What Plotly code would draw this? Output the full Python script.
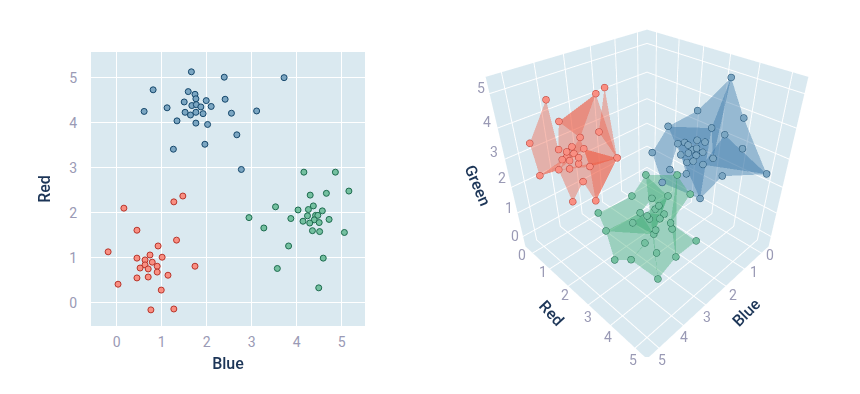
import plotly.graph_objects as go

# 2D panel: Blue (x) against Red (y)
navy_blue=[1.66,2.39,3.72,.81,1.59,1.74,1.76,1.99,2.41,1.50,1.67,1.77,1.87,2.10,1.12,.61,1.52,1.64,1.76,1.92,2.55,3.11,1.34,1.76,2.02,2.67,1.26,1.96,2.77]
navy_red=[5.13,5.01,5.00,4.73,4.69,4.63,4.53,4.49,4.52,4.46,4.38,4.40,4.35,4.36,4.33,4.25,4.23,4.17,4.23,4.20,4.21,4.26,4.04,3.99,3.96,3.73,3.41,3.52,2.96]
coral_blue=[1.47,1.27,.16,.45,1.33,.92,-.19,.74,.45,1.01,.63,.79,.63,.90,1.74,.52,.70,.90,1.14,.70,.45,.03,.99,.76,1.27]
coral_red=[2.37,2.24,2.10,1.61,1.39,1.26,1.13,1.06,.99,1.01,.95,.90,.84,.81,.81,.77,.75,.68,.61,.57,.55,.41,.28,-.16,-.14]
green_blue=[4.30,4.66,5.16,4.16,4.86,3.53,4.03,4.26,4.37,4.57,4.24,4.42,4.47,2.94,3.87,4.14,4.39,4.29,4.50,4.72,3.27,4.35,4.51,5.06,3.82,4.59,3.57,4.49]
green_red=[2.39,2.43,2.48,2.90,2.90,2.13,2.06,2.07,2.15,2.04,1.93,1.94,1.94,1.89,1.87,1.81,1.84,1.77,1.78,1.85,1.66,1.60,1.58,1.56,1.26,.99,.76,.33]

# 3D panel
coral3_x=[4.07,2.93,2.61,4.04,3.29,3.83,4.86,3.99,4.38,3.80,4.27,4.09,4.22,4.07,3.23,4.45,4.26,4.06,3.95,4.56,4.41,5.04,4.18,4.71,4.18]
coral3_y=[0.01,0.85,0.87,0.48,1.33,1.14,0.10,0.91,0.81,1.22,1.04,1.12,0.93,1.31,2.01,1.04,1.12,1.26,1.64,0.96,1.30,0.69,1.56,1.71,2.09]
coral3_z=[4.54,4.63,4.72,4.03,3.74,3.70,3.51,3.37,3.40,3.36,3.38,3.28,3.14,3.22,3.15,3.20,3.12,2.99,3.02,2.88,3.00,2.78,2.58,2.23,2.18]
navy3_x=[0.09,1.07,0.13,1.89,0.95,0.89,1.43,1.21,1.90,1.67,1.75,1.54,1.57,0.66,2.45,1.84,1.46,1.86,1.67,1.28,1.84,1.90,1.52,2.37,2.01,1.43,0.42,2.57,2.10]
navy3_y=[3.47,3.12,4.09,2.74,3.58,4.01,3.46,3.58,3.14,3.20,3.40,3.55,3.40,4.51,2.66,3.50,3.72,3.24,3.65,3.97,3.69,3.52,3.81,3.29,3.61,4.45,5.27,3.19,4.24]
navy3_z=[5.04,4.25,4.03,3.92,3.83,3.76,3.58,3.48,3.53,3.50,3.53,3.40,3.30,3.42,3.27,3.35,3.31,3.19,3.27,3.14,3.17,3.08,2.97,2.95,2.79,2.84,2.82,2.56,2.30]
green3_x=[2.78,2.06,1.95,3.29,2.84,2.58,2.82,2.87,4.19,3.26,3.25,2.81,3.11,2.99,3.54,2.85,3.18,2.76,4.25,3.24,3.62,2.47,3.38,3.12,4.37,4.11,3.73]
green3_y=[2.73,3.31,3.76,2.66,3.04,3.44,3.31,3.21,2.17,2.97,3.25,3.52,3.21,3.52,2.94,3.82,3.54,3.81,2.55,3.52,3.53,4.51,3.78,4.31,3.02,3.45,4.18]
green3_z=[2.70,2.63,2.12,2.18,2.06,2.22,1.92,1.77,1.79,1.72,1.76,1.73,1.54,1.66,1.49,1.60,1.36,1.31,1.38,1.23,1.14,1.11,0.75,0.78,0.63,0.76,0.23]

coral_tri=[(6,0,8),(6,8,19),(6,19,21),(21,19,15),(3,1,5),(3,1,9),(3,8,9),(8,9,19),(5,9,19),(1,4,18),(1,9,18),(1,4,14),(2,4,14),(9,14,18),(9,14,19),(4,14,18),(19,14,22),(19,18,14),(19,22,23),(22,24,14),(18,14,24)]
navy_tri=[(3,1,4),(1,0,4),(0,4,5),(0,5,2),(0,4,19),(2,26,13),(2,13,5),(5,13,26),(26,25,19),(26,19,5),(3,4,19),(3,19,8),(3,4,22),(14,8,23),(14,23,27),(8,19,24),(27,24,28),(24,25,28),(24,19,25),(4,5,19),(14,3,8),(23,24,27),(4,22,28),(5,26,22),(3,22,28)]
green_tri=[(8,3,14),(8,14,18),(3,0,9),(0,1,5),(0,5,4),(1,2,5),(3,9,14),(0,4,9),(4,5,11),(2,5,15),(5,11,15),(15,21,17),(17,21,23),(15,23,19),(18,14,19),(18,19,24),(24,19,25),(20,25,26),(19,26,23),(19,20,26),(14,9,19),(9,11,19),(11,15,19),(0,5,19),(14,5,19),(18,9,19),(0,19,26),(1,15,23)]

BG='#dae9f0'
tick_font=dict(size=14,color='#9a9ab5')
title_font=dict(size=16,color='#1c3557',family='Roboto Medium')
styles=[('#f98f82','rgb(240,90,65)','#b8352b'),('#7ba6c2','rgb(48,113,165)','#15476b'),('#74c0a0','rgb(60,170,115)','#1c6b4e')]

fig=go.Figure()
for (bb,rr),(fill,_,edge) in zip([(coral_blue,coral_red),(navy_blue,navy_red),(green_blue,green_red)],styles):
    fig.add_scatter(x=bb,y=rr,mode='markers',marker=dict(size=6,color=fill,line=dict(width=1,color=edge)))

# Hulls sit just behind their markers: each vertex is pushed away from the camera along its sight line.
PUSH=.04
CAM=(9.76,9.76,9.72)
def push(vals,c):
    return [v+(v-c)*PUSH for v in vals]
for (x,y,z,tri),(fill,hull,edge) in zip([(coral3_x,coral3_y,coral3_z,coral_tri),(navy3_x,navy3_y,navy3_z,navy_tri),(green3_x,green3_y,green3_z,green_tri)],styles):
    fig.add_mesh3d(x=push(x,CAM[0]),y=push(y,CAM[1]),z=push(z,CAM[2]),
        i=[t[0] for t in tri],j=[t[1] for t in tri],k=[t[2] for t in tri],color=hull,opacity=.4,flatshading=True,
        lighting=dict(ambient=1,diffuse=0,specular=0,roughness=1,fresnel=0))
    fig.add_scatter3d(x=x,y=y,z=z,mode='markers',marker=dict(size=4,color=fill,line=dict(width=1,color=edge)))

def label(t,x,y,font,ang=0):
    return dict(text=t,x=(x-8)/860,y=1-(y-8)/394,xref='paper',yref='paper',xanchor='center',yanchor='middle',showarrow=False,font=font,textangle=ang)
notes=[label('Red',552,313,title_font,47),label('Blue',746,312,title_font,-45),label('Green',478,185,title_font,67)]
for i,(x,y) in enumerate([(522,255),(543,272),(565,295),(588,317),(608,337),(633,360)]): notes.append(label(str(i),x,y,tick_font))
for i,(x,y) in enumerate([(770,255),(754,272),(733,295),(707,317),(684,337),(662,360)]): notes.append(label(str(i),x,y,tick_font))
for i,(x,y) in enumerate([(515,236),(509,208),(502,178),(494,152),(487,122),(481,88)]): notes.append(label(str(i),x,y,tick_font))

ax3=dict(range=[-.45,5.45],dtick=1,backgroundcolor=BG,showbackground=True,gridcolor='white',zeroline=False,showticklabels=False,title=dict(text=''))
fig.update_layout(width=860,height=394,margin=dict(l=0,r=0,t=0,b=0),showlegend=False,plot_bgcolor=BG,paper_bgcolor='white',font=dict(family='Roboto'),annotations=notes,
 xaxis=dict(domain=[83/860,357/860],range=[-.571,5.518],dtick=1,gridcolor='white',zeroline=False,ticks='outside',ticklen=3,tickcolor='rgba(0,0,0,0)',tickfont=tick_font,title=dict(text='Blue',font=title_font,standoff=9)),
 yaxis=dict(domain=[76/394,350/394],range=[-.518,5.57],dtick=1,gridcolor='white',zeroline=False,ticks='outside',ticklen=10,tickcolor='rgba(0,0,0,0)',tickfont=tick_font,title=dict(text='Red',font=title_font,standoff=14)),
 scene=dict(domain=dict(x=[424/860,854/860],y=[45/394,1]),aspectmode='manual',aspectratio=dict(x=1,y=1,z=1.03),
  camera=dict(eye=dict(x=1.249,y=1.249,z=1.223),center=dict(x=.019,y=.019,z=-.037)),xaxis=ax3,yaxis=ax3,zaxis=ax3))
fig.write_html('out.html')
